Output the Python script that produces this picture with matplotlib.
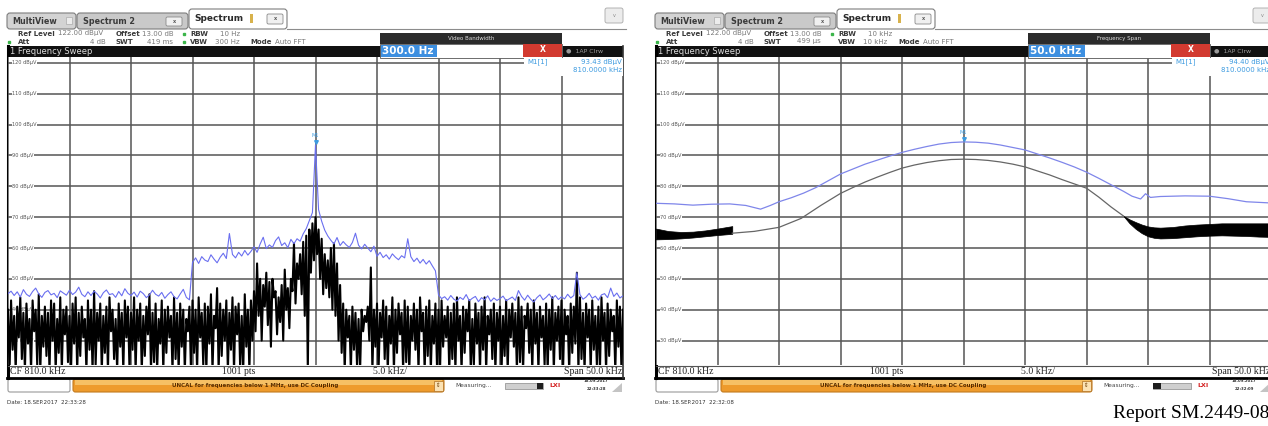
import matplotlib.pyplot as plt
import numpy as np
from matplotlib.patches import Rectangle, FancyBboxPatch, Polygon

W, H = 1268, 426

# analyzer setup shared by both screens
center_khz = 810.0
span_khz = 50.0
ref_level = 122.0
range_db = 100.0
level_lines = [120, 110, 100, 90, 80, 70, 60, 50, 40, 30]

# ---- screen 1: RBW 10 Hz, VBW 300 Hz ----
# trace 1 (blue), one value every 0.25 kHz from 785 to 835 kHz
t1_level = [
    45.2, 46.0, 44.6, 45.8, 44.1, 46.5, 45.0, 44.3, 45.9, 47.0, 45.1, 44.0, 45.6, 46.2, 44.8, 45.3, 43.9, 46.1, 45.4, 44.7,
    46.3, 44.9, 45.7, 47.3, 45.0, 44.2, 45.8, 44.6, 46.0, 45.1, 43.8, 45.5, 46.4, 44.9, 45.2, 44.0, 45.9, 44.5, 46.8, 45.3,
    44.6, 45.7, 44.1, 46.0, 45.2, 43.9, 44.8, 46.3, 45.0, 44.4, 45.6, 43.7, 44.9, 45.8, 44.2, 43.5, 45.1, 46.6, 44.0, 43.2,
    55.3, 56.8, 55.0, 57.2, 56.1, 55.6, 57.8, 56.4, 55.2, 57.0, 58.3, 56.6, 64.7, 57.9, 56.8, 58.6, 57.4, 59.2, 57.7, 58.9,
    60.4, 58.6, 61.3, 63.5, 59.8, 61.0, 60.2, 62.4, 63.6, 60.8, 61.7, 60.1, 62.8, 61.4, 63.0, 62.2, 64.6, 66.3, 68.9, 71.5,
    93.43,
    72.4, 68.7, 65.8, 63.9, 62.5, 61.3, 63.4, 60.8, 62.1, 61.0, 60.2, 61.8, 64.8, 60.9, 59.7, 61.2, 60.0, 58.8, 60.6,
    57.3, 58.6, 56.9, 57.8, 56.4, 58.1, 57.0, 56.2, 57.5, 56.8, 63.0, 57.2, 55.6, 56.7, 55.1, 56.3, 54.8, 55.9, 54.2, 52.6,
    44.8, 43.6, 44.2, 43.1, 44.6, 43.4, 42.8, 44.0, 43.3, 44.9, 42.9, 43.7, 44.3, 42.6, 43.9, 43.2, 44.5, 42.7, 43.8, 43.0,
    43.6, 44.4, 42.9, 43.5, 44.1, 43.0, 46.2, 44.3, 43.1, 44.7, 43.4, 42.5, 43.9, 44.8, 43.2, 44.0, 45.1, 43.6, 44.6, 43.3,
    44.2, 43.5, 45.0, 43.8, 44.6, 52.0, 44.9, 43.4, 44.1, 45.3, 43.7, 44.4, 43.1, 44.8, 45.2, 43.9, 47.0, 44.3, 45.4, 43.8, 44.5,
]
# trace 2 (black): noise peaks on the same 0.25 kHz raster ...
t2_peaks = [
    40, 43, 38, 41, 44, 39, 42, 37, 43, 40, 45, 38, 41, 39, 43, 42, 37, 44, 40, 41,
    38, 42, 44, 39, 41, 37, 43, 40, 46, 39, 42, 38, 41, 44, 40, 37, 42, 39, 43, 41,
    39, 44, 40, 42, 38, 41, 45, 39, 42, 37, 43, 40, 41, 38, 44, 39, 42, 40, 37, 41,
    43, 40, 44, 39, 42, 41, 45, 38, 47, 42, 40, 43, 39, 44, 41, 42, 38, 45, 40, 43,
    46, 55, 50, 48, 52, 49, 50, 46, 44, 48, 53, 47, 50, 61.5, 55, 58, 62, 64, 66, 68,
    70,
    66, 63, 58, 56, 60, 61.5, 55, 48, 42, 40, 38, 41, 39, 37, 40, 38, 41, 53.7, 40,
    42, 39, 43, 41, 38, 44, 40, 42, 39, 43, 41, 38, 42, 40, 44, 39, 41, 43, 38, 42,
    40, 43, 38, 41, 39, 42, 44, 38, 41, 40, 43, 37, 42, 39, 41, 44, 38, 40, 42, 39,
    41, 38, 43, 40, 42, 39, 44, 41, 38, 42, 40, 43, 39, 41, 38, 42, 40, 44, 39, 41,
    43, 40, 38, 42, 41, 52, 44, 39, 42, 40, 43, 38, 41, 44, 39, 42, 40, 38, 43, 41, 40,
]
# ... and the dips half way between them
t2_dips = [
    20, 27, 20, 31, 24, 20, 29, 20, 33, 22, 20, 28, 25, 20, 30, 20, 26, 20, 32, 23,
    20, 29, 20, 25, 31, 20, 27, 20, 22, 30, 20, 26, 20, 33, 24, 20, 28, 20, 31, 21,
    27, 20, 30, 20, 25, 32, 20, 23, 20, 29, 20, 26, 31, 20, 24, 20, 28, 20, 33, 20,
    26, 20, 31, 22, 20, 29, 20, 34, 20, 25, 30, 20, 27, 20, 32, 21, 20, 28, 20, 30,
    33, 38, 30, 41, 35, 28, 44, 32, 36, 30, 40, 34, 46, 42, 50, 45, 38, 20, 52, 56,
    58, 50, 45, 47, 44, 40, 38, 30, 26, 20, 31, 20, 27, 22, 20, 33, 36, 30, 20, 28,
    20, 31, 24, 20, 29, 20, 26, 32, 20, 23, 20, 30, 27, 20, 33, 20, 25, 20, 29, 22,
    20, 28, 31, 20, 24, 20, 30, 20, 26, 33, 20, 22, 29, 20, 27, 20, 32, 24, 20, 30,
    20, 25, 20, 31, 28, 20, 23, 20, 34, 26, 20, 29, 20, 31, 22, 20, 27, 20, 30, 24,
    20, 32, 20, 26, 29, 20, 24, 20, 31, 20, 27, 22, 20, 30, 20, 25, 33, 20, 28, 20,
]
m1_level_a = 93.43

# ---- screen 2: RBW 10 kHz, VBW 10 kHz ----
s2_blue_freq = [785.0, 786.5, 788.0, 789.5, 791.0, 792.3, 793.5, 794.3, 795.0, 796.0, 797.0, 798.0,
                799.0, 800.0, 801.0, 802.0, 803.0, 804.0, 805.0, 806.0, 807.0, 808.0, 809.0, 810.0,
                811.0, 812.0, 813.0, 814.0, 815.0, 816.0, 817.0, 818.0, 819.0, 820.0, 821.0, 822.0,
                823.0, 823.7, 824.4, 824.8, 825.2, 826.0, 828.0, 830.0, 831.5, 833.0, 835.0]
s2_blue_level = [74.5, 74.3, 73.9, 74.2, 74.3, 73.8, 72.6, 73.8, 75.0, 76.3, 77.8, 79.6,
                 81.8, 84.0, 85.6, 87.2, 88.5, 89.8, 91.0, 92.0, 92.9, 93.7, 94.2, 94.4,
                 94.3, 94.0, 93.4, 92.6, 91.8, 90.5, 89.2, 87.8, 86.3, 84.6, 82.6, 80.5,
                 78.4, 76.8, 75.9, 77.6, 76.4, 76.7, 76.9, 76.8, 76.0, 75.0, 74.6]
s2_grey_freq = [791.2, 793.0, 795.0, 796.8, 798.4, 800.0, 801.0, 802.0, 803.0, 804.0, 805.0, 806.0,
                807.0, 808.0, 809.0, 810.0, 811.0, 812.0, 813.0, 814.0, 815.0, 816.0, 817.0, 818.0,
                819.0, 820.0, 821.0, 822.0, 823.0]
s2_grey_level = [64.8, 65.4, 66.7, 69.6, 73.8, 77.7, 79.6, 81.4, 83.0, 84.5, 85.9, 86.9,
                 87.7, 88.3, 88.7, 88.8, 88.7, 88.4, 87.9, 87.2, 86.3, 85.0, 83.7, 82.2,
                 80.8, 79.4, 76.5, 73.3, 70.4]
# the grey trace smears into a solid band at both ends of the span
band_l_freq = [785.0, 786.0, 787.0, 788.0, 789.0, 790.0, 791.2]
band_l_top = [66.3, 65.5, 65.2, 65.3, 65.7, 66.3, 67.1]
band_l_bot = [62.8, 62.9, 63.1, 63.4, 63.8, 64.2, 64.6]
band_r_freq = [823.0, 823.5, 824.0, 824.5, 825.0, 825.5, 826.0, 827.0, 828.0, 829.0, 830.0,
               831.0, 832.0, 833.0, 834.0, 835.0]
band_r_top = [70.4, 69.3, 68.4, 67.6, 67.0, 66.7, 66.6, 66.8, 67.3, 67.6, 67.8, 68.0, 68.0, 68.0, 68.0, 68.0]
band_r_bot = [70.4, 68.0, 66.2, 64.8, 63.8, 63.3, 63.1, 63.2, 63.5, 63.8, 64.0, 64.1, 64.0, 63.9, 63.7, 63.6]
m1_level_b = 94.40

MARK = "#3d9be0"
f_start = center_khz - span_khz / 2
f_stop = center_khz + span_khz / 2

fig = plt.figure(figsize=(W / 100, H / 100), dpi=100)
bg = fig.add_axes([0, 0, 1, 1], zorder=0)
fg = fig.add_axes([0, 0, 1, 1], zorder=3)
for a in (bg, fg):
    a.set_xlim(0, W)
    a.set_ylim(H, 0)
    a.axis("off")
    a.patch.set_visible(False)


def rect(a, x, y, w, h, fc, ec="none", lw=0.8, r=0):
    if r:
        p = FancyBboxPatch((x, y), w, h, boxstyle=f"round,pad=0,rounding_size={r}", fc=fc, ec=ec, lw=lw)
    else:
        p = Rectangle((x, y), w, h, fc=fc, ec=ec, lw=lw)
    a.add_patch(p)


def txt(a, x, y, s, size=5, color="#333333", bold=False, ha="left", **kw):
    a.text(x, y, s, fontsize=size, color=color, ha=ha, va="center",
           fontweight="bold" if bold else "normal", **kw)


def screen(ox, rbw, vbw, swt, vbw_dot, dlg_title, dlg_value, mk_level, date_line, stamp, dark_x, dark_w):
    # tabs
    bg.plot([ox + 287, ox + 626], [28.5, 28.5], color="#8c8c8c", lw=0.8)
    rect(bg, ox + 7, 13, 69, 16, "#d3d3d3", "#7d7d7d", r=3)
    txt(bg, ox + 12, 21.5, "MultiView", 5.8, "#3a3a3a", True)
    rect(bg, ox + 66, 17, 6, 7, "#ececec", "#aaaaaa", lw=0.5)
    rect(bg, ox + 77, 13, 111, 16, "#c9c9c9", "#7d7d7d", r=3)
    txt(bg, ox + 83, 21.5, "Spectrum 2", 5.8, "#3a3a3a", True)
    rect(bg, ox + 166, 17, 16, 9, "#f0f0f0", "#8a8a8a", lw=0.6, r=1.5)
    txt(bg, ox + 174, 21.5, "x", 3.5, "#555555", True, ha="center")
    rect(bg, ox + 189, 9, 98, 20, "white", "#7d7d7d", r=3)
    txt(bg, ox + 194, 18.5, "Spectrum", 6.5, "#2a2a2a", True)
    rect(bg, ox + 250, 13.5, 3, 9, "#d8b24c")
    rect(bg, ox + 267, 14, 16, 10, "#f0f0f0", "#8a8a8a", lw=0.6, r=1.5)
    txt(bg, ox + 275, 19, "x", 3.5, "#555555", True, ha="center")
    rect(bg, ox + 605, 8, 18, 15, "#ececec", "#a8a8a8", lw=0.6, r=2)
    txt(bg, ox + 614, 15.5, "v", 3.5, "#888888", ha="center")

    # settings rows
    y1, y2 = 33.5, 41.5
    txt(bg, ox + 18, y1, "Ref Level", 5, "#3a3a3a", True)
    txt(bg, ox + 58, y1, "122.00 dBµV", 5, "#7a7a7a")
    txt(bg, ox + 116, y1, "Offset", 5, "#3a3a3a", True)
    txt(bg, ox + 142, y1, "13.00 dB", 5, "#7a7a7a")
    bg.plot(ox + 184, y1, "s", ms=2, color="#3bb54a")
    txt(bg, ox + 190, y1, "RBW", 5, "#3a3a3a", True)
    txt(bg, ox + 220, y1, rbw, 5, "#7a7a7a")
    bg.plot(ox + 9, y2, "s", ms=2, color="#3bb54a")
    txt(bg, ox + 18, y2, "Att", 5, "#3a3a3a", True)
    txt(bg, ox + 106, y2, "4 dB", 5, "#7a7a7a", ha="right")
    txt(bg, ox + 116, y2, "SWT", 5, "#3a3a3a", True)
    txt(bg, ox + 173, y2, swt, 5, "#7a7a7a", ha="right")
    if vbw_dot:
        bg.plot(ox + 184, y2, "s", ms=2, color="#3bb54a")
    txt(bg, ox + 190, y2, "VBW", 5, "#3a3a3a", True)
    txt(bg, ox + 215, y2, vbw, 5, "#7a7a7a")
    txt(bg, ox + 250, y2, "Mode", 5, "#3a3a3a", True)
    txt(bg, ox + 275, y2, "Auto FFT", 5, "#7a7a7a")

    # window title bar
    rect(bg, ox + 7, 46, 616, 10.5, "#111111")
    txt(bg, ox + 10, 51.3, "1 Frequency Sweep", 6, "#dddddd")
    txt(bg, ox + 566, 51.3, "●  1AP Clrw", 4.5, "#9a9a9a")

    # frame and scale strip
    bg.plot([ox + 8, ox + 8], [46, 378], color="black", lw=2.2)
    bg.plot([ox + 7, ox + 623], [377.5, 377.5], color="black", lw=2)
    bg.plot([ox + 623, ox + 623], [46, 378], color="#333333", lw=1.2)
    bg.plot([ox + 8, ox + 623], [365.5, 365.5], color="#555555", lw=0.8)
    serif = dict(family="Liberation Serif")
    txt(bg, ox + 10, 371.2, "CF 810.0 kHz", 7, "#222222", **serif)
    txt(bg, ox + 222, 371.2, "1001 pts", 7, "#222222", **serif)
    txt(bg, ox + 373, 371.2, "5.0 kHz/", 7, "#222222", **serif)
    txt(bg, ox + 622, 371.2, "Span 50.0 kHz", 7, "#222222", ha="right", **serif)

    # status bar
    rect(bg, ox + 8, 379, 62, 13, "white", "#9a9a9a", r=2)
    rect(bg, ox + 73, 379, 371, 13, "#ee9b2c", "#c27a1e", r=2.5)
    rect(bg, ox + 75, 380, 367, 5, "#f6c064")
    txt(bg, ox + 255, 385.5, "UNCAL for frequencies below 1 MHz, use DC Coupling", 4, "#5a2e00", True, ha="center")
    rect(bg, ox + 434, 380.5, 8.5, 10, "#fbe2b4", "#b07020", lw=0.5)
    txt(bg, ox + 438.2, 385.5, "⇕", 4, "#6a3a00", ha="center")
    txt(bg, ox + 455, 385.5, "Measuring...", 4.2, "#444444")
    rect(bg, ox + 505, 382.5, 38, 6, "#cfcfcf", "#8a8a8a", lw=0.5)
    rect(bg, ox + dark_x, 382.5, dark_w, 6, "#1e1e1e")
    txt(bg, ox + 555, 385.5, "LXI", 4.5, "#d42020", True, ha="center")
    txt(bg, ox + 596, 381.5, "18.09.2017", 2.8, "#333333", True, ha="center")
    txt(bg, ox + 596, 388.5, stamp, 2.8, "#333333", True, ha="center")
    bg.add_patch(Polygon([(ox + 612, 392), (ox + 622, 392), (ox + 622, 383)], fc="#c4c4c4", ec="none"))
    txt(bg, ox + 7, 403, date_line, 4, "#333333")

    # entry dialog and marker readout drawn over the grid
    rect(fg, ox + 380, 33, 182, 10.5, "#2b2b2b")
    txt(fg, ox + 471, 38.3, dlg_title, 4, "#dddddd", ha="center")
    rect(fg, ox + 380, 43.5, 182, 14, "white", "#555555", lw=0.6)
    rect(fg, ox + 381, 44.5, 56, 12, "#3d8fe0")
    txt(fg, ox + 382, 50.8, dlg_value, 7.5, "white", True)
    rect(fg, ox + 523, 43.5, 39, 13, "#d23a30")
    txt(fg, ox + 542.5, 50, "X", 5.5, "white", True, ha="center")
    rect(fg, ox + 524, 57.5, 99, 18, "white")
    txt(fg, ox + 527, 62, "M1[1]", 5, MARK)
    txt(fg, ox + 622, 62, f"{mk_level:.2f} dBµV", 5, MARK, ha="right")
    txt(fg, ox + 622, 70.5, f"{center_khz:.4f} kHz", 5, MARK, ha="right")


def grid_axes(ox):
    x0, x1, y0, y1 = ox + 8, ox + 623, 56.8, 365.2
    ax = fig.add_axes([x0 / W, 1 - y1 / H, (x1 - x0) / W, (y1 - y0) / H], zorder=1)
    ax.set_xlim(f_start, f_stop)
    ax.set_ylim(ref_level - range_db, ref_level)
    ax.set_xticks(np.arange(f_start, f_stop + 0.1, span_khz / 10))
    ax.set_yticks(level_lines)
    ax.grid(True, color="#555555", lw=1.1)
    ax.tick_params(length=0, labelbottom=False, labelleft=False)
    for s in ax.spines.values():
        s.set_visible(False)
    # level labels sit on the grid but under the traces
    for lev in level_lines:
        ax.text(f_start + 0.33, lev, f"{lev} dBµV", fontsize=3.6, color="#555555", va="center",
                bbox=dict(fc="white", ec="none", pad=0.4), zorder=2)
    return ax


def marker(ax, level):
    ax.plot(center_khz, level + 0.8, marker="v", ms=2.6, color=MARK, zorder=6)
    ax.text(center_khz, level + 3.0, "M1", fontsize=3.6, color=MARK, ha="center", va="center", zorder=6)


# screen 1
screen(0, "10 Hz", "300 Hz", "419 ms", True, "Video Bandwidth", "300.0 Hz", m1_level_a,
       "Date: 18.SEP.2017  22:33:28", "22:33:28", 537, 6)
ax1 = grid_axes(0)
peak_f = np.linspace(f_start, f_stop, len(t2_peaks))
dip_f = peak_f[:-1] + (peak_f[1] - peak_f[0]) / 2
t2_f = np.empty(len(peak_f) + len(dip_f))
t2_v = np.empty_like(t2_f)
t2_f[0::2], t2_f[1::2] = peak_f, dip_f
t2_v[0::2], t2_v[1::2] = t2_peaks, t2_dips
ax1.plot(t2_f, t2_v, color="black", lw=1.5, zorder=3)
ax1.plot(np.linspace(f_start, f_stop, len(t1_level)), t1_level, color="#6a6ff0", lw=0.8, zorder=4)
marker(ax1, m1_level_a)

# screen 2
ox2 = 648
screen(ox2, "10 kHz", "10 kHz", "499 µs", False, "Frequency Span", "50.0 kHz", m1_level_b,
       "Date: 18.SEP.2017  22:32:08", "22:32:09", 505, 8)
ax2 = grid_axes(ox2)
ax2.fill_between(band_l_freq, band_l_bot, band_l_top, color="black", lw=0.5, zorder=3)
ax2.fill_between(band_r_freq, band_r_bot, band_r_top, color="black", lw=0.5, zorder=3)
ax2.plot(s2_grey_freq, s2_grey_level, color="#666666", lw=0.9, zorder=3)
ax2.plot(s2_blue_freq, s2_blue_level, color="#7f86ea", lw=0.9, zorder=4)
marker(ax2, m1_level_b)

fig.text(1113 / W, 1 - 413.5 / H, "Report SM.2449-08", fontsize=14, family="Liberation Serif",
         color="black", ha="left", va="center", zorder=5)

fig.savefig("out.png", dpi=100, facecolor="white")
